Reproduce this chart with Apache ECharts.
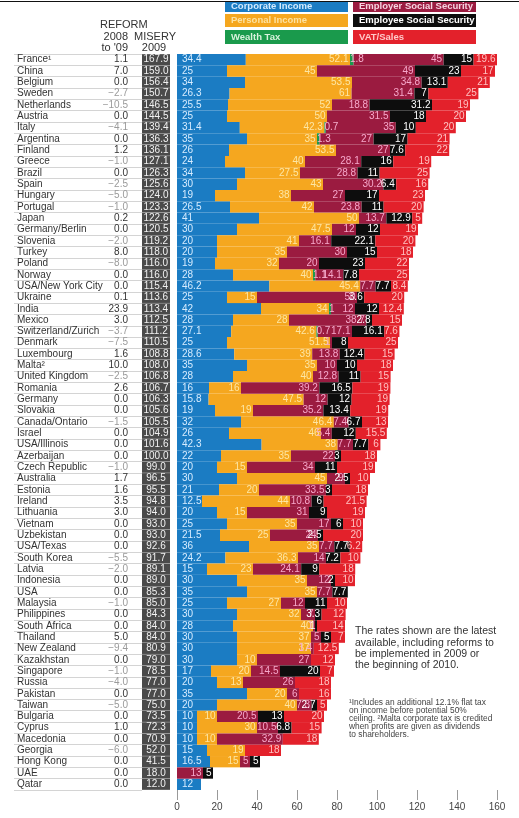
<!DOCTYPE html>
<html><head><meta charset="utf-8">
<script src="https://cdn.jsdelivr.net/npm/echarts@6/dist/echarts.min.js"></script>
<style>html,body{margin:0;padding:0;background:#fff}#c{width:519px;height:818px}</style>
</head><body><div id="c"></div>
<script>
const countries = ['France¹','China','Belgium','Sweden','Netherlands','Austria','Italy','Argentina','Finland','Greece','Brazil','Spain','Hungary','Portugal','Japan','Germany/Berlin','Slovenia','Turkey','Poland','Norway','USA/New York City','Ukraine','India','Mexico','Switzerland/Zurich','Denmark','Luxembourg','Malta²','United Kingdom','Romania','Germany','Slovakia','Canada/Ontario','Israel','USA/Illinois','Azerbaijan','Czech Republic','Australia','Estonia','Ireland','Lithuania','Vietnam','Uzbekistan','USA/Texas','South Korea','Latvia','Indonesia','USA','Malaysia','Philippines','South Africa','Thailand','New Zealand','Kazakhstan','Singapore','Russia','Pakistan','Taiwan','Bulgaria','Cyprus','Macedonia','Georgia','Hong Kong','UAE','Qatar'];
const reform = [1.1,7.0,0.0,-2.7,-10.5,0.0,-4.1,0.0,1.2,-1.0,0.0,-2.5,-5.0,-1.0,0.2,0.0,-2.0,8.0,-8.0,0.0,0.0,0.1,23.9,3.0,-3.7,-7.5,1.6,10.0,-2.5,2.6,0.0,0.0,-1.5,0.0,0.0,0.0,-1.0,1.7,1.6,3.5,3.0,0.0,0.0,0.0,-5.5,-2.0,0.0,0.0,-1.0,0.0,0.0,5.0,-9.4,0.0,-1.0,-4.0,0.0,-5.0,0.0,1.0,0.0,-6.0,0.0,0.0,0.0];
const misery = [167.9,159.0,156.4,150.7,146.5,144.5,139.4,136.3,136.1,127.1,126.3,125.6,124.0,123.3,122.6,120.5,119.2,118.0,116.0,116.0,115.4,113.6,113.4,112.5,111.2,110.5,108.8,108.0,106.8,106.7,106.3,105.6,105.5,104.9,101.6,100.0,99.0,96.5,95.5,94.8,94.0,93.0,93.0,92.6,91.7,89.1,89.0,85.3,85.0,84.3,84.0,84.0,80.9,79.0,78.5,77.0,77.0,75.0,73.5,72.3,70.9,52.0,41.5,18.0,12.0];
const corporate = [34.4,25,34,26.3,25.5,25,31.4,35,26,24,34,30,19,26.5,41,30,20,20,19,28,46.2,25,42,28,27.1,25,28.6,35,28,16,15.8,19,32,26,42.3,22,20,30,21,12.5,20,25,21.5,36,24.2,15,30,35,25,30,28,30,30,30,17,20,35,20,10,10,10,15,16.5,0,12];
const personal = [52.1,45,53.5,61,52,50,42.3,35,53.5,40,27.5,43,38,42,50,47.5,41,35,32,40,45.4,15,34,28,42.6,51.5,39,35,40,16,47.5,19,46.4,46,38,35,15,45,20,44,15,35,25,35,36.3,23,35,35,27,32,40,37,37,10,20,13,20,40,10,30,10,19,15,0,0];
const wealth = [1.8,0,0,0,0,0,0.7,1.3,0,0,0,0,0,0,0,0,0,0,0,1.1,0,0,1,0,0.7,0,0,0,0,0,0,0,0,0,0,0,0,0,0,0,0,0,0,0,0,0,0,0,0,0,0,0,0,0,0,0,0,0,0,0,0,0,0,0,0];
const employer = [45,49,34.8,31.4,18.8,31.5,35,27,27,28.1,28.8,30.2,27,23.8,13.7,12,16.1,30,20,14.1,7.7,50,12,38.7,17.1,1,13.8,10,12.8,39.2,12,35.2,7.4,5.4,7.7,22,34,9,33.5,10.8,31,17,24,7.7,14,24.1,12,7.7,12,7,1,5,1.4,27,14.5,26,6,7.3,20.5,10.5,32.9,0,5,13,0];
const employee = [15,23,13.1,7,31.2,18,10,17,7.6,16,11,6.4,17,11,12.9,12,22.1,15,23,7.8,7.7,3.6,12,2.8,16.1,8,12.4,10,11,16.5,12,13.4,6.7,12,7.7,3,11,2.5,3,6,9,6,2.5,7.7,7.2,9,2,7.7,11,3.3,1,5,0,0,20,0,0,2.7,13,6.8,0,0,5,5,0];
const vatSales = [19.6,17,21,25,19,20,20,21,22,19,25,16,23,20,5,19,20,18,22,25,8.4,20,12.4,15,7.6,25,15,18,15,19,19,19,13,15.5,6,18,19,10,18,21.5,19,10,20,6.2,10,18,10,0,10,12,14,7,12.5,12,7,18,16,5,20,15,18,18,0,0,0];
const xTicks = [0,20,40,60,80,100,120,140,160];

const FONT = '"Liberation Sans", Arial, sans-serif';
const COLORS = {corp:'#1b7cc3', pers:'#f5a71f', wealth:'#1a9a4c', empr:'#9b1b40', empe:'#0d0d0d', vat:'#e3212b'};
const TOP = 54, BOTTOM = 28;

function series(name, data, color, pos, lcolor, dist) {
  return {
    name: name, type: 'bar', stack: 'all', data: data, barCategoryGap: '0%',
    itemStyle: {color: color},
    label: {show: true, position: pos, distance: dist, color: lcolor, fontSize: 10, fontFamily: FONT,
      formatter: p => (p.value ? String(p.value) : '')},
    emphasis: {disabled: true}, silent: true
  };
}
function fmtRef(v) {
  const s = Math.abs(v).toFixed(1);
  return v < 0 ? '{n|\u2212' + s + '}' : '{p|' + s + '}';
}

const chart = echarts.init(document.getElementById('c'), null, {renderer: 'canvas'});
const yBase = {type: 'category', data: countries, inverse: true, position: 'left', offset: 0, axisLine: {show: false}, axisTick: {show: false}, splitLine: {show: false}};
const legendItems = [
  ['Corporate Income', COLORS.corp, '#d3ebff', 225, 2, 10],
  ['Personal Income', COLORS.pers, '#fde2a0', 225, 14, 13],
  ['Wealth Tax', COLORS.wealth, '#d8f2dc', 225, 30, 14],
  ['Employer Social Security', COLORS.empr, '#f6d3e0', 353, 2, 10],
  ['Employee Social Security', COLORS.empe, '#ffffff', 353, 14, 13],
  ['VAT/Sales', COLORS.vat, '#ffc9c9', 353, 30, 14]
];
const graphics = [];
legendItems.forEach(it => {
  graphics.push({type: 'rect', left: it[3], top: it[4], shape: {width: 123, height: it[5]}, style: {fill: it[1]}, silent: true});
  graphics.push({type: 'text', left: it[3] + 6, top: it[4] + it[5] / 2 - 6 + (it[4] === 2 ? -1 : 0), style: {text: it[0], fill: it[2], font: 'bold 9.5px ' + FONT, lineHeight: 12}, silent: true});
});
graphics.push({type: 'line', shape: {x1: 0, y1: 1.5, x2: 519, y2: 1.5}, style: {stroke: '#111', lineWidth: 1.2}, silent: true, z: 200});
const hdr = (t, x, y, align) => ({type: 'text', x: x, y: y, style: {text: t, fill: '#333', font: '11px ' + FONT, textAlign: align, textVerticalAlign: 'middle'}, silent: true});
graphics.push(hdr('REFORM', 100, 25, 'left'));
graphics.push(hdr('2008', 128, 37, 'right'));
graphics.push(hdr('MISERY', 134, 37, 'left'));
graphics.push(hdr("to '09", 128, 48, 'right'));
graphics.push(hdr('2009', 154, 48, 'center'));
graphics.push({type: 'text', x: 355, y: 626, style: {text: 'The rates shown are the latest\navailable, including reforms to\nbe implemented in 2009 or\nthe beginning of 2010.', fill: '#333', font: '10.5px ' + FONT, lineHeight: 11.2}, silent: true});
graphics.push({type: 'text', x: 349, y: 699, style: {text: '¹Includes an additional 12.1% flat tax\non income before potential 50%\nceiling. ²Malta corporate tax is credited\nwhen profits are given as dividends\nto shareholders.', fill: '#444', font: '8.4px ' + FONT, lineHeight: 7.9}, silent: true});

chart.setOption({
  animation: false,
  backgroundColor: '#fff',
  grid: [
    {left: 177, right: 22, top: TOP, bottom: BOTTOM, containLabel: false, outerBoundsMode: 'none'},
    {left: 14, width: 128, top: TOP, bottom: BOTTOM, containLabel: false, outerBoundsMode: 'none'}
  ],
  xAxis: [
    {gridIndex: 0, type: 'value', min: 0, max: 160, interval: 20, position: 'bottom',
      axisLine: {show: false}, axisTick: {show: true, length: 10, lineStyle: {color: '#999'}},
      splitLine: {show: false},
      axisLabel: {margin: 12, fontSize: 10, color: '#444', fontFamily: FONT, formatter: v => (xTicks.indexOf(v) >= 0 ? String(v) : '')}},
    {gridIndex: 1, type: 'value', min: 0, max: 1, show: false}
  ],
  yAxis: [
    Object.assign({}, yBase, {gridIndex: 0, axisLabel: {interval: 0, align: 'left', margin: 160, fontSize: 10, color: '#333', fontFamily: FONT}}),
    Object.assign({}, yBase, {gridIndex: 0, axisLabel: {interval: 0, align: 'right', margin: 49, fontFamily: FONT,
      formatter: (v, i) => fmtRef(reform[i]),
      rich: {n: {fontSize: 10, color: '#9a9a9a', fontFamily: FONT}, p: {fontSize: 10, color: '#333', fontFamily: FONT}}}}),
    Object.assign({}, yBase, {gridIndex: 0, axisLabel: {interval: 0, align: 'center', margin: 21, fontFamily: FONT, fontSize: 10,
      color: '#f2f2f2', backgroundColor: '#4a4a4a', width: 28, height: 11, lineHeight: 11,
      formatter: (v, i) => misery[i].toFixed(1)}}),
    Object.assign({}, yBase, {gridIndex: 1, axisLabel: {show: false}, splitLine: {show: true, interval: 0, lineStyle: {color: '#d4d4d4', width: 1}}})
  ],
  series: [
    series('Corporate Income', corporate, COLORS.corp, 'insideLeft', '#d6ecff', 5),
    series('Personal Income', personal, COLORS.pers, 'insideRight', '#fde6a4', 1.5),
    series('Wealth Tax', wealth, COLORS.wealth, 'insideLeft', '#f7b0cf', 0),
    series('Employer Social Security', employer, COLORS.empr, 'insideRight', '#f7a8cb', 1.5),
    series('Employee Social Security', employee, COLORS.empe, 'insideRight', '#ffffff', 1.5),
    series('VAT/Sales', vatSales, COLORS.vat, 'insideRight', '#ffc0c0', 1.5)
  ],
  graphic: graphics
});
</script></body></html>
